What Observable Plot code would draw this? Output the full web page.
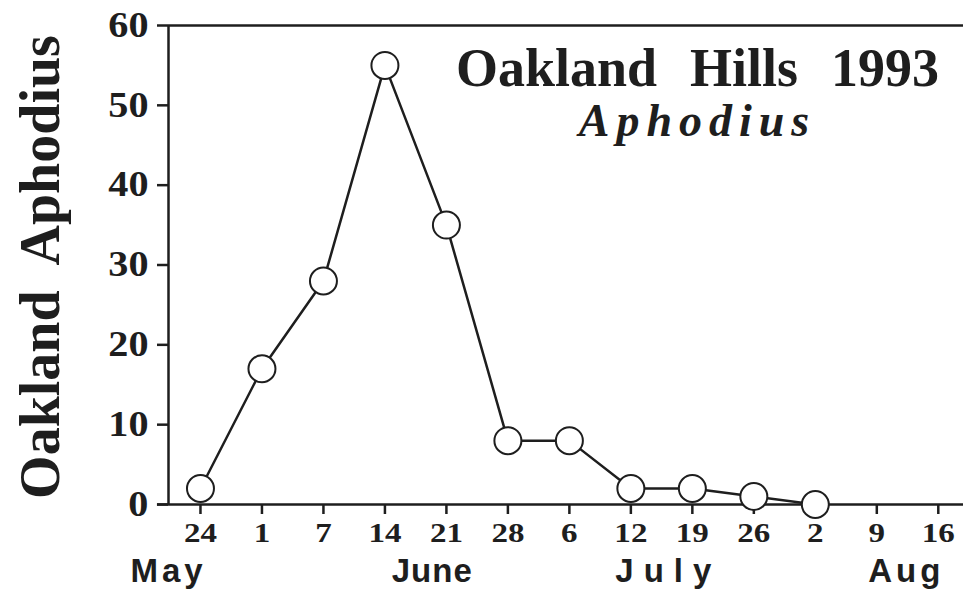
<!DOCTYPE html>
<html><head>
<meta charset="utf-8">
<script src="https://cdn.jsdelivr.net/npm/d3@7"></script>
<script src="https://cdn.jsdelivr.net/npm/@observablehq/plot@0.6"></script>
<style>body{margin:0;background:#fff} svg{overflow:visible}</style>
</head><body><div id="chart"></div>
<script>
// tick labels (day of month) along the x axis, one per weekly sample slot
const dayLabels = ["24","1","7","14","21","28","6","12","19","26","2","9","16"];
// sampled counts (one per slot, starting at 24 May)
const counts = [2, 17, 28, 55, 35, 8, 8, 2, 2, 1, 0];
const months = ["May", "June", "July", "Aug"];
const monthAt = [-0.52, 3.77, 7.61, 11.48]; // slot index where each month name is centred
const monthSpacing = [4, 1, 10, 4];         // letter spacing (px) of each month name
const yTicks = [0, 10, 20, 30, 40, 50, 60];
const title = "Oakland  Hills  1993";
const subtitle = "Aphodius";
const yLabel = "Oakland  Aphodius";

const data = counts.map((c, i) => ({slot: i, count: c}));
const ink = "#1e1e1e";
const serif = "'Liberation Serif', 'Times New Roman', serif";
const sans = "'Liberation Sans', Arial, sans-serif";

const chart = Plot.plot({
  width: 963, height: 612,
  marginLeft: 168, marginRight: 0, marginTop: 25, marginBottom: 108,
  x: {type: "linear", domain: [-0.52, 12.41]},
  y: {domain: [0, 60]},
  style: {background: "#fff", color: ink, overflow: "visible"},
  marks: [
    Plot.axisY(yTicks, {tickSize: 11, tickPadding: 9, strokeWidth: 2.5, fontSize: 35, fontWeight: "bold", fontFamily: serif, label: null}),
    Plot.axisX(d3.range(dayLabels.length), {tickSize: 10, tickPadding: 8, strokeWidth: 2.5, tickFormat: i => dayLabels[i], fontSize: 28, fontWeight: "bold", fontFamily: serif, label: null}),
    Plot.ruleY([0], {x1: -0.7, x2: 12.42, stroke: ink, strokeWidth: 2.5}),
    Plot.ruleY([60], {stroke: ink, strokeWidth: 2.5}),
    Plot.ruleX([-0.52], {stroke: ink, strokeWidth: 2.5}),
    Plot.line(data, {x: "slot", y: "count", stroke: ink, strokeWidth: 2.5}),
    Plot.dot(data, {x: "slot", y: "count", r: 13.5, fill: "white", stroke: ink, strokeWidth: 2}),
    Plot.text(months, {x: (d, i) => monthAt[i], frameAnchor: "bottom", dy: 77, fontSize: 33, fontWeight: "bold", fontFamily: sans, fill: ink}),
    Plot.text([title], {frameAnchor: "top-right", dx: -266, dy: 22, textAnchor: "middle", fontSize: 54, fontWeight: "bold", fontFamily: serif, fill: ink}),
    Plot.text([subtitle], {frameAnchor: "top-right", dx: -266, dy: 78, textAnchor: "middle", fontSize: 46, fontWeight: "bold", fontStyle: "italic", fontFamily: serif, fill: ink}),
    Plot.text([yLabel], {frameAnchor: "left", dx: -127, dy: 2, rotate: -90, textAnchor: "middle", fontSize: 56, fontWeight: "bold", fontFamily: serif, fill: ink})
  ]
});
document.getElementById("chart").appendChild(chart);

// typographic touches: horizontal stretch of the tick numerals, letter spacing
function stretch(el, s) {
  const x = +el.getAttribute("x") || 0, y = +el.getAttribute("y") || 0;
  const t = el.getAttribute("transform") || "";
  el.setAttribute("transform", `${t} translate(${x},${y}) scale(${s},1) translate(${-x},${-y})`);
}
const texts = d3.select(chart).selectAll("text");
texts.each(function() {
  const s = this.textContent;
  const lab = this.closest("g")?.getAttribute("aria-label") || "";
  if (yTicks.map(String).includes(s) && lab.includes("y-axis")) stretch(this, 1.15);
  else if (dayLabels.includes(s) && lab.includes("x-axis")) stretch(this, 1.18);
  const mi = months.indexOf(s);
  if (mi >= 0) this.style.letterSpacing = monthSpacing[mi] + "px";
  if (s === subtitle) this.style.letterSpacing = "7px";
  if (s === title) this.style.wordSpacing = "3px";
});
</script>
</body></html>
